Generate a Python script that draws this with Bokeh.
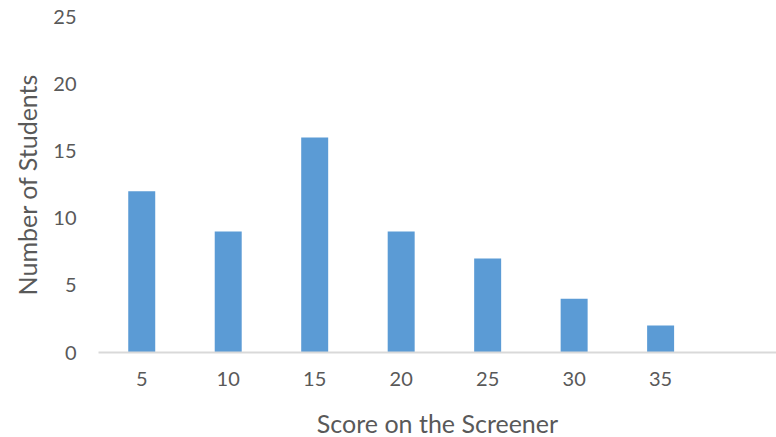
from bokeh.plotting import figure
from bokeh.models import FixedTicker, Range1d, ColumnDataSource
from bokeh.embed import file_html
from bokeh.resources import INLINE

scores = [5, 10, 15, 20, 25, 30, 35]
students = [12, 9, 16, 9, 7, 4, 2]
y_ticks = [0, 5, 10, 15, 20, 25]

src = ColumnDataSource(dict(x=scores, top=students))

p = figure(frame_width=678, frame_height=336, output_backend="svg", toolbar_location=None,
           x_range=Range1d(2.5, 41.7), y_range=Range1d(0, 25),
           min_border_left=98, min_border_right=0, min_border_top=16, min_border_bottom=0)

p.vbar(x="x", top="top", bottom=0, width=1.56, source=src,
       fill_color="#5B9BD5", line_color=None)

p.outline_line_color = None
p.xgrid.visible = False
p.ygrid.visible = False
p.background_fill_color = "white"
p.border_fill_color = "white"

font = "Lato"
txt = "#595959"

p.xaxis.ticker = FixedTicker(ticks=scores)
p.xaxis.axis_line_color = "#D9D9D9"
p.xaxis.axis_line_width = 2
p.xaxis.major_tick_line_color = None
p.xaxis.minor_tick_line_color = None
p.xaxis.major_label_standoff = 13
p.xaxis.major_label_text_font = font
p.xaxis.major_label_text_font_size = "20px"
p.xaxis.major_label_text_color = txt
p.xaxis.axis_label = "Score on the Screener"
p.xaxis.axis_label_text_font = font
p.xaxis.axis_label_text_font_size = "25px"
p.xaxis.axis_label_text_font_style = "normal"
p.xaxis.axis_label_text_color = txt
p.xaxis.axis_label_standoff = 19

p.yaxis.ticker = FixedTicker(ticks=y_ticks)
p.yaxis.axis_line_color = None
p.yaxis.major_tick_line_color = None
p.yaxis.minor_tick_line_color = None
p.yaxis.major_label_standoff = 16
p.yaxis.major_label_text_font = font
p.yaxis.major_label_text_font_size = "20px"
p.yaxis.major_label_text_color = txt
p.yaxis.axis_label = "Number of Students"
p.yaxis.axis_label_text_font = font
p.yaxis.axis_label_text_font_size = "25px"
p.yaxis.axis_label_text_font_style = "normal"
p.yaxis.axis_label_text_color = txt
p.yaxis.axis_label_standoff = 8

open("out.html", "w").write(file_html(p, INLINE))
